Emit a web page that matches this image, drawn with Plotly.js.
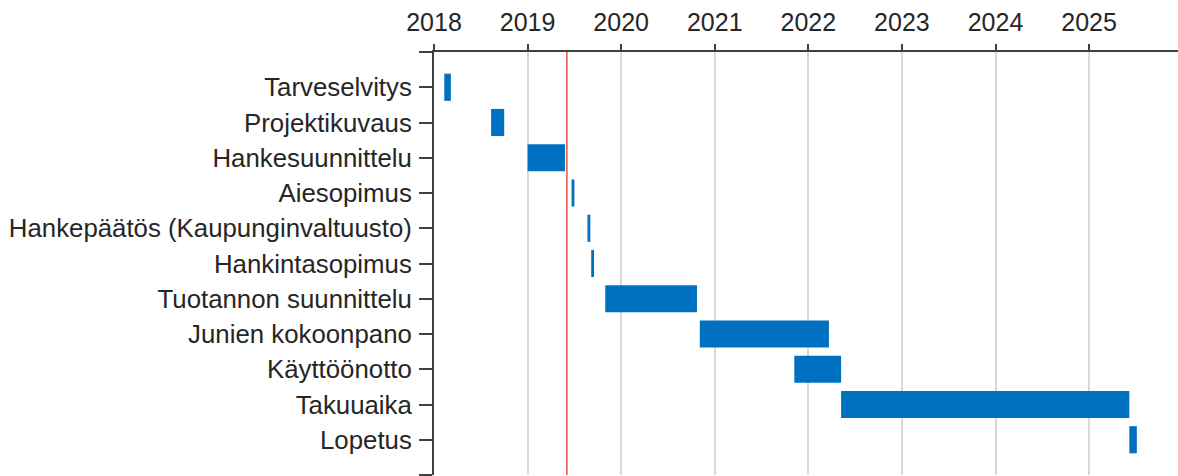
<!DOCTYPE html>
<html>
<head>
<meta charset="utf-8">
<script src="https://cdn.plot.ly/plotly-3.0.1.min.js"></script>
<style>html,body{margin:0;padding:0;background:#fff;}#chart{width:1178px;height:476px;}</style>
</head>
<body>
<div id="chart"></div>
<script>
// Tasks (top to bottom) and their start / end as decimal years
var tasks = [
  "Tarveselvitys",
  "Projektikuvaus",
  "Hankesuunnittelu",
  "Aiesopimus",
  "Hankepäätös (Kaupunginvaltuusto)",
  "Hankintasopimus",
  "Tuotannon suunnittelu",
  "Junien kokoonpano",
  "Käyttöönotto",
  "Takuuaika",
  "Lopetus"
];
var starts = [2018.11, 2018.61, 2019.00, 2019.47, 2019.64, 2019.68, 2019.83, 2020.84, 2021.85, 2022.35, 2025.43];
var ends   = [2018.18, 2018.75, 2019.40, 2019.50, 2019.67, 2019.71, 2020.81, 2022.22, 2022.35, 2025.43, 2025.51];
var yearTicks = [2018, 2019, 2020, 2021, 2022, 2023, 2024, 2025];
var todayMarker = 2019.42;

var rows = tasks.map(function(_, i){ return i; });
var durations = ends.map(function(e, i){ return e - starts[i]; });

var tickVals = [-1].concat(rows).concat([tasks.length]);
var tickText = [""].concat(tasks).concat([""]);

var trace = {
  type: "bar",
  orientation: "h",
  y: rows,
  x: durations,
  base: starts,
  width: 0.77,
  marker: {color: "#0070c0", line: {width: 0}},
  hoverinfo: "skip"
};

var layout = {
  width: 1178,
  height: 476,
  margin: {l: 434, r: 0, t: 52, b: 1, pad: 0},
  paper_bgcolor: "#ffffff",
  plot_bgcolor: "#ffffff",
  showlegend: false,
  font: {family: "Liberation Sans, Arial, sans-serif", size: 25, color: "#262626"},
  xaxis: {
    side: "top",
    range: [2018, 2025.95],
    tickvals: yearTicks,
    ticktext: yearTicks.map(String),
    ticks: "outside",
    ticklen: 6,
    tickwidth: 2,
    tickcolor: "#404040",
    showline: true,
    linecolor: "#404040",
    linewidth: 2,
    showgrid: true,
    gridcolor: "#d9d9d9",
    gridwidth: 2,
    zeroline: false,
    ticklabelstandoff: 3,
    tickfont: {size: 25, color: "#262626"}
  },
  yaxis: {
    range: [tasks.length, -1],
    tickvals: tickVals,
    ticktext: tickText,
    ticks: "outside",
    ticklen: 13,
    tickwidth: 2,
    tickcolor: "#404040",
    showline: true,
    linecolor: "#404040",
    linewidth: 2,
    showgrid: false,
    zeroline: false,
    ticklabelstandoff: 2,
    tickfont: {size: 25.8, color: "#262626"}
  },
  shapes: [{
    type: "line",
    xref: "x",
    yref: "paper",
    x0: todayMarker, x1: todayMarker,
    y0: 0, y1: 1,
    line: {color: "#e8504a", width: 1.5}
  }]
};

Plotly.newPlot("chart", [trace], layout, {displayModeBar: false, staticPlot: true});
</script>
</body>
</html>
